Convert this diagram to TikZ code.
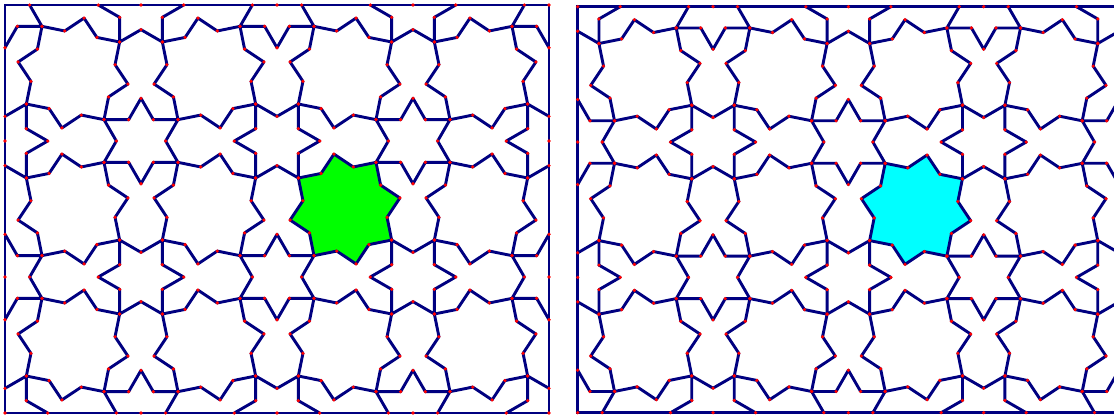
\documentclass[tikz,border=0pt]{standalone}
\definecolor{navyc}{RGB}{0,0,128}
\definecolor{limec}{RGB}{0,255,0}
\definecolor{cyanc}{RGB}{0,255,255}
\tikzset{
  pat/.style={draw=navyc, line width=2.9pt, line join=round},
  framel/.style={draw=navyc, line width=2.9pt, line join=miter},
  vdot/.style={fill=red, draw=none},
}
\newcommand\kS{0.314}
\newcommand\dotrad{1.8pt}
\newcommand\mypanel[5]{%
 \pgfmathsetmacro\Rsix{\kS*#3}%
 \pgfmathsetmacro\rsix{\Rsix/sqrt(3)}%
 \pgfmathsetmacro\ua{0.5-\kS*cos(30)}%
 \pgfmathsetmacro\ub{0.5-\kS*0.5}%
 \pgfmathsetmacro\Reight{#3*sqrt(\ua*\ua+\ub*\ub)}%
 \pgfmathsetmacro\reight{\Reight*cos(45)/cos(22.5)}%
 \pgfmathsetmacro\thet{atan2(\ub,\ua)-45}%
 \pgfmathsetmacro\xmax{#1+4*#3}%
 \pgfmathsetmacro\ymax{#2+3*#3}%
 \begin{scope}
  \clip (#1,#2) rectangle (\xmax,\ymax);
  \foreach \i in {0,...,3}{\foreach \j in {0,...,2}{
    \pgfmathsetmacro\cx{#1+(\i+0.5)*#3}
    \pgfmathsetmacro\cy{#2+(\j+0.5)*#3}
    \pgfmathsetmacro\az{45+(#4)*\thet*(1-2*mod(\i+\j,2))}
    \ifnum\i=2\relax\ifnum\j=1\relax
      \fill[#5] plot[samples at={0,...,15}] ({\cx+ifthenelse(mod(\x,2)==0,\Reight,\reight)*cos(\az+22.5*\x)},{\cy+ifthenelse(mod(\x,2)==0,\Reight,\reight)*sin(\az+22.5*\x)}) -- cycle;
    \fi\fi
    \draw[pat] plot[samples at={0,...,15}] ({\cx+ifthenelse(mod(\x,2)==0,\Reight,\reight)*cos(\az+22.5*\x)},{\cy+ifthenelse(mod(\x,2)==0,\Reight,\reight)*sin(\az+22.5*\x)}) -- cycle;
  }}
  \foreach \i in {0,...,4}{\foreach \j in {0,...,3}{
    \pgfmathsetmacro\cx{#1+\i*#3}
    \pgfmathsetmacro\cy{#2+\j*#3}
    \pgfmathsetmacro\bz{45+45*(#4)*(1-2*mod(\i+\j,2))}
    \draw[pat] plot[samples at={0,...,11}] ({\cx+ifthenelse(mod(\x,2)==0,\Rsix,\rsix)*cos(\bz+30*\x)},{\cy+ifthenelse(mod(\x,2)==0,\Rsix,\rsix)*sin(\bz+30*\x)}) -- cycle;
  }}
 \end{scope}
 \draw[framel] (#1,#2) rectangle (\xmax,\ymax);
 \foreach \i in {0,...,3}{\foreach \j in {0,...,2}{
    \pgfmathsetmacro\cx{#1+(\i+0.5)*#3}
    \pgfmathsetmacro\cy{#2+(\j+0.5)*#3}
    \pgfmathsetmacro\az{45+(#4)*\thet*(1-2*mod(\i+\j,2))}
    \foreach \k in {0,...,15}{
      \pgfmathsetmacro\px{\cx+ifthenelse(mod(\k,2)==0,\Reight,\reight)*cos(\az+22.5*\k)}
      \pgfmathsetmacro\py{\cy+ifthenelse(mod(\k,2)==0,\Reight,\reight)*sin(\az+22.5*\k)}
      \fill[vdot] (\px,\py) circle[radius=\dotrad];
    }
 }}
 \foreach \i in {0,...,4}{\foreach \j in {0,...,3}{
    \pgfmathsetmacro\cx{#1+\i*#3}
    \pgfmathsetmacro\cy{#2+\j*#3}
    \pgfmathsetmacro\bz{45+45*(#4)*(1-2*mod(\i+\j,2))}
    \foreach \k in {0,...,11}{
      \pgfmathsetmacro\px{\cx+ifthenelse(mod(\k,2)==0,\Rsix,\rsix)*cos(\bz+30*\k)}
      \pgfmathsetmacro\py{\cy+ifthenelse(mod(\k,2)==0,\Rsix,\rsix)*sin(\bz+30*\k)}
      \pgfmathtruncatemacro\ok{and(and(\px>#1-0.6,\px<\xmax+0.6),and(\py>#2-0.6,\py<\ymax+0.6))}
      \ifnum\ok=1\relax \fill[vdot] (\px,\py) circle[radius=\dotrad]; \fi
    }
    \pgfmathtruncatemacro\bd{or(or(\i==0,\i==4),or(\j==0,\j==3))}
    \pgfmathtruncatemacro\sk{and(and(\i==0,\j==0),(#4)>0)}
    \ifnum\bd=1\relax\ifnum\sk=0\relax \fill[vdot] (\cx,\cy) circle[radius=\dotrad]; \fi\fi
 }}
}
\begin{document}
\begin{tikzpicture}[x=1pt,y=-1pt]
\useasboundingbox (0,0) rectangle (1114,416);
\clip (0,0) rectangle (1114,416);
\mypanel{5}{5}{136}{1}{limec}
\mypanel{577.7}{6.7}{135.33}{-1}{cyanc}
\end{tikzpicture}
\end{document}
